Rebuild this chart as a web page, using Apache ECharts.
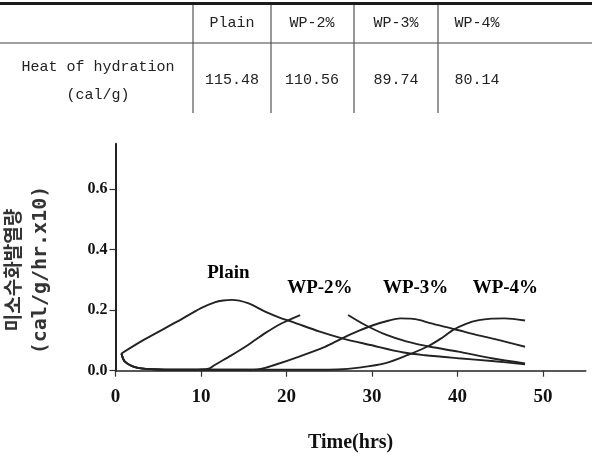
<!DOCTYPE html>
<html>
<head>
<meta charset="utf-8">
<script src="https://cdn.jsdelivr.net/npm/echarts@6/dist/echarts.min.js"></script>
<style>
html,body{margin:0;padding:0;background:#fff;}
#c{width:592px;height:467px;}
</style>
</head>
<body>
<div id="c"></div>
<script>
// ---- Table data ----
var tableHeaders = ['Plain', 'WP-2%', 'WP-3%', 'WP-4%'];
var tableRowLabel = ['Heat of hydration', '(cal/g)'];
var tableValues = ['115.48', '110.56', '89.74', '80.14'];

// ---- Chart data ----
var plainTime = [0.7, 3.25, 7.2, 10, 11.6, 12.6, 13.6, 15.5, 17.5, 19.4, 20.6, 23.9, 26.5, 29.8, 33.7, 36.2, 40.1, 44, 47.9];
var plainHeat = [0.057, 0.101, 0.162, 0.207, 0.226, 0.232, 0.234, 0.223, 0.195, 0.173, 0.162, 0.129, 0.107, 0.085, 0.060, 0.051, 0.041, 0.032, 0.021];

var wp2Time = [0.7, 1.1, 2.5, 5, 8, 10, 11, 11.6, 13.5, 15.5, 17.5, 19.4, 21.6, 24, 27.2, 29.2, 31.7, 34, 36.8, 40.1, 44, 47.9];
var wp2Heat = [0.057, 0.030, 0.010, 0.004, 0.003, 0.004, 0.008, 0.019, 0.050, 0.085, 0.124, 0.156, 0.184, null, 0.184, 0.151, 0.118, 0.097, 0.079, 0.063, 0.041, 0.024];

var wp3Time = [0.7, 1.1, 2.5, 5, 10, 15, 17, 18.5, 21.4, 24.5, 26.5, 28.5, 30.2, 32, 33.3, 34.5, 35.6, 36.8, 39.7, 42, 44, 46, 47.9];
var wp3Heat = [0.057, 0.030, 0.010, 0.004, 0.003, 0.003, 0.006, 0.018, 0.046, 0.079, 0.107, 0.132, 0.151, 0.166, 0.173, 0.172, 0.167, 0.157, 0.137, 0.120, 0.107, 0.093, 0.079];

var wp4Time = [0.7, 1.1, 2.5, 5, 10, 20, 26, 28.5, 31.7, 34.2, 36.5, 38, 39.5, 41, 42.5, 44, 45.5, 47.9];
var wp4Heat = [0.057, 0.030, 0.010, 0.004, 0.003, 0.003, 0.004, 0.010, 0.026, 0.052, 0.080, 0.105, 0.135, 0.155, 0.167, 0.172, 0.173, 0.166];

var curveNames = ['Plain', 'WP-2%', 'WP-3%', 'WP-4%'];
var labelTime = [13.2, 23.9, 35.1, 45.6];
var labelHeat = [0.324, 0.273, 0.273, 0.273];

var xTicks = [0, 10, 20, 30, 40, 50];
var yTicks = [0, 0.2, 0.4, 0.6];

var yNameKo = '미소수화발열량';
var yNameUnit = '(cal/g/hr.x10)';
var xName = 'Time(hrs)';

function pairs(t, v) {
  return t.map(function (x, i) { return [x, v[i]]; });
}

// ---- Table graphic ----
var colX = [232, 312, 396, 477];
var vLines = [193, 271, 354, 438];
var tFont = '15px "Liberation Mono", "DejaVu Sans Mono", monospace';
var graphics = [];
graphics.push({ type: 'line', shape: { x1: 0, y1: 3.5, x2: 592, y2: 3.5 }, style: { stroke: '#1a1a1a', lineWidth: 3 } });
graphics.push({ type: 'line', shape: { x1: 0, y1: 43, x2: 592, y2: 43 }, style: { stroke: '#808080', lineWidth: 1.5 } });
vLines.forEach(function (x) {
  graphics.push({ type: 'line', shape: { x1: x, y1: 5, x2: x, y2: 113 }, style: { stroke: '#555', lineWidth: 1.2 } });
});
tableHeaders.forEach(function (h, i) {
  graphics.push({ type: 'text', x: colX[i], y: 23, style: { text: h, font: tFont, fill: '#222', align: 'center', verticalAlign: 'middle' } });
});
tableValues.forEach(function (v, i) {
  graphics.push({ type: 'text', x: colX[i], y: 80, style: { text: v, font: tFont, fill: '#222', align: 'center', verticalAlign: 'middle' } });
});
graphics.push({ type: 'text', x: 98, y: 67, style: { text: tableRowLabel[0], font: tFont, fill: '#222', align: 'center', verticalAlign: 'middle' } });
graphics.push({ type: 'text', x: 98, y: 95, style: { text: tableRowLabel[1], font: tFont, fill: '#222', align: 'center', verticalAlign: 'middle' } });

// ---- Y axis names (rotated) ----
graphics.push({ type: 'text', x: 13, y: 270, rotation: Math.PI / 2,
  style: { text: yNameKo, font: 'bold 19px "Noto Sans CJK KR", sans-serif', fill: '#333', align: 'center', verticalAlign: 'middle' } });
graphics.push({ type: 'text', x: 41, y: 270, rotation: Math.PI / 2,
  style: { text: yNameUnit, font: 'bold 20px "DejaVu Sans Mono", "Liberation Mono", monospace', fill: '#333', align: 'center', verticalAlign: 'middle' } });

var lineStyle = { color: '#222', width: 1.9 };
function curve(name, t, v) {
  return {
    type: 'line', name: name, data: pairs(t, v), smooth: 0.3, symbol: 'none',
    connectNulls: false, lineStyle: lineStyle, itemStyle: { color: '#222' }, z: 3
  };
}

var serifBold = '"Liberation Serif", "DejaVu Serif", serif';

var chart = echarts.init(document.getElementById('c'), null, { renderer: 'canvas' });
chart.setOption({
  animation: false,
  backgroundColor: '#fff',
  grid: { left: 115.5, top: 143.7, width: 470.25, height: 227, containLabel: false, outerBoundsMode: 'none' },
  xAxis: {
    type: 'value', min: 0, max: 55,
    name: xName, nameLocation: 'middle', nameGap: 62,
    nameTextStyle: { fontFamily: serifBold, fontWeight: 'bold', fontSize: 20, color: '#111' },
    axisLine: { show: true, onZero: false, lineStyle: { color: '#222', width: 1.6 } },
    axisTick: { show: true, inside: false, length: 6, customValues: xTicks, lineStyle: { color: '#333', width: 1.2 } },
    axisLabel: { customValues: xTicks, margin: 17, fontFamily: serifBold, fontWeight: 'bold', fontSize: 19, color: '#111' },
    splitLine: { show: false }
  },
  yAxis: {
    type: 'value', min: 0, max: 0.75,
    axisLine: { show: true, onZero: false, lineStyle: { color: '#222', width: 2 } },
    axisTick: { show: true, inside: false, length: 6, customValues: yTicks, lineStyle: { color: '#333', width: 1.2 } },
    axisLabel: { customValues: yTicks, margin: 8, fontFamily: serifBold, fontWeight: 'bold', fontSize: 16, color: '#111',
      formatter: function (v) { return v.toFixed(1); } },
    splitLine: { show: false }
  },
  series: [
    curve(curveNames[0], plainTime, plainHeat),
    curve(curveNames[1], wp2Time, wp2Heat),
    curve(curveNames[2], wp3Time, wp3Heat),
    curve(curveNames[3], wp4Time, wp4Heat)
  ],
  graphic: graphics
});

// Curve name labels placed through the chart's own coordinate conversion
var labelGraphics = curveNames.map(function (n, i) {
  var p = chart.convertToPixel({ gridIndex: 0 }, [labelTime[i], labelHeat[i]]);
  return { type: 'text', x: p[0], y: p[1], z: 10,
    style: { text: n, font: 'bold 19px ' + serifBold, fill: '#000', align: 'center', verticalAlign: 'middle' } };
});
chart.setOption({ graphic: graphics.concat(labelGraphics) });
</script>
</body>
</html>
